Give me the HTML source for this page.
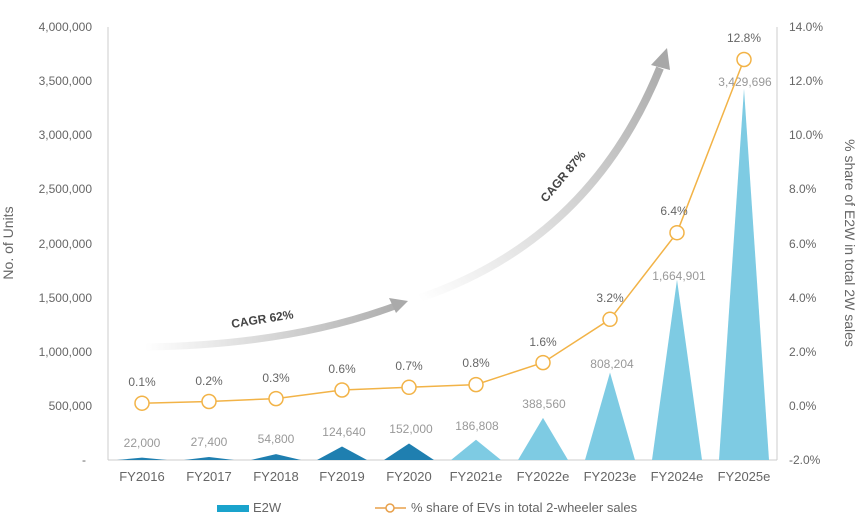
<!DOCTYPE html>
<html><head><meta charset="utf-8"><style>
body{margin:0;background:#fff}
svg text{font-family:"Liberation Sans",sans-serif;fill:#666}
</style></head><body>
<svg width="860" height="515" viewBox="0 0 860 515" xmlns="http://www.w3.org/2000/svg">
<defs>
<linearGradient id="g1" x1="145" y1="0" x2="410" y2="0" gradientUnits="userSpaceOnUse">
<stop offset="0" stop-color="#fff"/><stop offset="1" stop-color="#aaa"/></linearGradient>
<linearGradient id="g2" x1="420" y1="300" x2="670" y2="50" gradientUnits="userSpaceOnUse">
<stop offset="0" stop-color="#fff"/><stop offset="1" stop-color="#a8a8a8"/></linearGradient>
</defs>
<line x1="108" y1="27" x2="108" y2="460" stroke="#ccc" stroke-width="1"/>
<line x1="777" y1="27" x2="777" y2="460" stroke="#ccc" stroke-width="1"/>
<line x1="108" y1="460" x2="777" y2="460" stroke="#ccc" stroke-width="1"/>
<g font-size="12" text-anchor="end">
<text x="92" y="31">4,000,000</text><text x="92" y="85">3,500,000</text><text x="92" y="139">3,000,000</text>
<text x="92" y="193">2,500,000</text><text x="92" y="248">2,000,000</text><text x="92" y="302">1,500,000</text>
<text x="92" y="356">1,000,000</text><text x="92" y="410">500,000</text><text x="86" y="464">-</text>
</g>
<g font-size="12">
<text x="789" y="31">14.0%</text><text x="789" y="85">12.0%</text><text x="789" y="139">10.0%</text>
<text x="789" y="193">8.0%</text><text x="789" y="248">6.0%</text><text x="789" y="302">4.0%</text>
<text x="789" y="356">2.0%</text><text x="789" y="410">0.0%</text><text x="789" y="464">-2.0%</text>
</g>
<text transform="translate(13,243) rotate(-90)" font-size="14" text-anchor="middle">No. of Units</text>
<text transform="translate(845,243) rotate(90)" font-size="14" text-anchor="middle">% share of E2W in total 2W sales</text>
<!-- arrows -->
<path d="M145,347 Q290,345 395,306" fill="none" stroke="url(#g1)" stroke-width="7"/>
<polygon points="408,301 389,298 396,313" fill="#aaa"/>
<path d="M420,298 Q590,240 660,68" fill="none" stroke="url(#g2)" stroke-width="8"/>
<polygon points="667,48 651,65 670,70" fill="#a8a8a8"/>
<text transform="translate(232,328) rotate(-9)" font-size="12" font-weight="bold" style="fill:#444">CAGR 62%</text>
<text transform="translate(546,203) rotate(-50)" font-size="12" font-weight="bold" style="fill:#444">CAGR 87%</text>
<!-- bars -->
<g fill="#1f7fb0">
<polygon points="117,460 142,457.6 167,460"/>
<polygon points="184,460 209,457 234,460"/>
<polygon points="251,460 276,454.1 301,460"/>
<polygon points="317,460 342,446.5 367,460"/>
<polygon points="384,460 409,443.5 434,460"/>
</g>
<g fill="#7ecbe3">
<polygon points="451,460 476,439.8 501,460"/>
<polygon points="518,460 543,417.9 568,460"/>
<polygon points="585,460 610,372.5 635,460"/>
<polygon points="652,460 677,279.8 702,460"/>
<polygon points="719,460 744,88.8 769,460"/>
</g>
<g font-size="12" text-anchor="middle" style="fill:#999">
<text x="142" y="447" style="fill:#999">22,000</text><text x="209" y="446" style="fill:#999">27,400</text>
<text x="276" y="443" style="fill:#999">54,800</text><text x="344" y="436" style="fill:#999">124,640</text>
<text x="411" y="433" style="fill:#999">152,000</text><text x="477" y="430" style="fill:#999">186,808</text>
<text x="544" y="408" style="fill:#999">388,560</text><text x="612" y="368" style="fill:#999">808,204</text>
<text x="679" y="280" style="fill:#999">1,664,901</text><text x="745" y="86" style="fill:#999">3,429,696</text>
</g>
<polyline fill="none" stroke="#f2b347" stroke-width="1.5" points="142,403.2 209,401.5 276,398.6 342,390 409,387.3 476,384.6 543,362.6 610,319.3 677,232.7 744,59.5"/>
<g fill="#fff" stroke="#f2b347" stroke-width="1.5">
<circle cx="142" cy="403.2" r="7"/><circle cx="209" cy="401.5" r="7"/><circle cx="276" cy="398.6" r="7"/>
<circle cx="342" cy="390" r="7"/><circle cx="409" cy="387.3" r="7"/><circle cx="476" cy="384.6" r="7"/>
<circle cx="543" cy="362.6" r="7"/><circle cx="610" cy="319.3" r="7"/><circle cx="677" cy="232.7" r="7"/>
<circle cx="744" cy="59.5" r="7"/>
</g>
<g font-size="12" text-anchor="middle">
<text x="142" y="386">0.1%</text><text x="209" y="385">0.2%</text><text x="276" y="382">0.3%</text>
<text x="342" y="373">0.6%</text><text x="409" y="370">0.7%</text><text x="476" y="367">0.8%</text>
<text x="543" y="346">1.6%</text><text x="610" y="302">3.2%</text><text x="674" y="215">6.4%</text>
<text x="744" y="42">12.8%</text>
</g>
<g font-size="13" text-anchor="middle">
<text x="142" y="481">FY2016</text><text x="209" y="481">FY2017</text><text x="276" y="481">FY2018</text>
<text x="342" y="481">FY2019</text><text x="409" y="481">FY2020</text><text x="476" y="481">FY2021e</text>
<text x="543" y="481">FY2022e</text><text x="610" y="481">FY2023e</text><text x="677" y="481">FY2024e</text>
<text x="744" y="481">FY2025e</text>
</g>
<rect x="217" y="505" width="32" height="7" fill="#1aa3cc"/>
<text x="253" y="512" font-size="13">E2W</text>
<line x1="375" y1="508" x2="406" y2="508" stroke="#e8a04a" stroke-width="1.5"/>
<circle cx="390" cy="508" r="4" fill="#fff" stroke="#e8a04a" stroke-width="1.5"/>
<text x="411" y="512" font-size="13">% share of EVs in total 2-wheeler sales</text>
</svg>
</body></html>
